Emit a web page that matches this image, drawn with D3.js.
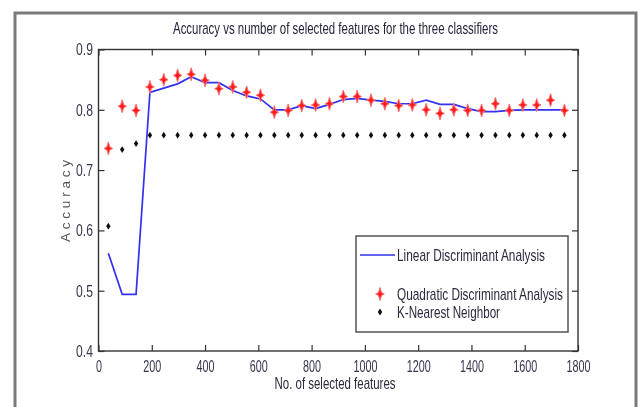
<!DOCTYPE html>
<html>
<head>
<meta charset="utf-8">
<title>Accuracy vs number of selected features</title>
<style>
    body, html {
        margin: 0;
        padding: 0;
        background: #fff;
        font-family: "Liberation Sans", Arial, sans-serif;
    }
    .axis .domain {
        display: none;
    }
    .axis line {
        stroke: #333;
        stroke-width: 1.2;
    }
    .axis text {
        font-size: 17px;
        fill: #363650;
    }
</style>
</head>
<body>
<div id="chart"></div>
<script src="https://d3js.org/d3.v7.min.js"></script>
<script>

    // number of selected features (x) for each run
    var features = [37, 89, 141, 193, 245, 297, 348, 400, 452, 504, 556, 608, 660, 712, 763, 815, 867,
        919, 971, 1023, 1075, 1127, 1178, 1230, 1282, 1334, 1386, 1438, 1490, 1542, 1593, 1645, 1697, 1749];

    var ldaAcc = [0.562, 0.494, 0.494, 0.829, 0.836, 0.843, 0.855, 0.845, 0.845, 0.832, 0.823, 0.818,
        0.800, 0.800, 0.807, 0.802, 0.809, 0.817, 0.819, 0.816, 0.814, 0.810, 0.810, 0.816,
        0.809, 0.809, 0.802, 0.797, 0.797, 0.799, 0.800, 0.800, 0.800, 0.800];

    var qdaAcc = [0.736, 0.806, 0.799, 0.838, 0.850, 0.857, 0.859, 0.849, 0.835, 0.838, 0.829, 0.824,
        0.796, 0.799, 0.807, 0.808, 0.810, 0.822, 0.822, 0.816, 0.810, 0.807, 0.808, 0.800,
        0.794, 0.800, 0.799, 0.799, 0.810, 0.799, 0.808, 0.808, 0.816, 0.799];

    var knnAcc = [0.607, 0.734, 0.744, 0.758, 0.758, 0.758, 0.758, 0.758, 0.758, 0.758, 0.758, 0.758,
        0.758, 0.758, 0.758, 0.758, 0.758, 0.758, 0.758, 0.758, 0.758, 0.758, 0.758, 0.758,
        0.758, 0.758, 0.758, 0.758, 0.758, 0.758, 0.758, 0.758, 0.758, 0.758];

    var xTicks = [0, 200, 400, 600, 800, 1000, 1200, 1400, 1600, 1800];
    var yTicks = [0.4, 0.5, 0.6, 0.7, 0.8, 0.9];
    var legendLabels = ['Linear Discriminant Analysis', 'Quadratic Discriminant Analysis', 'K-Nearest Neighbor'];

    var width = 641;
    var height = 407;
    var plotLeft = 98.5, plotRight = 578, plotTop = 49.5, plotBottom = 351;

    var svg = d3.select('#chart')
        .append('svg')
        .attr('width', width)
        .attr('height', height);

    svg.append('defs').append('filter')
        .attr('id', 'soft')
        .append('feGaussianBlur')
        .attr('stdDeviation', 0.5);

    var g = svg.append('g').attr('filter', 'url(#soft)');

    // figure frame
    g.append('path')
        .attr('d', 'M15,407 V13 H636 V407')
        .attr('fill', 'none')
        .attr('stroke', '#7a7a7a')
        .attr('stroke-width', 3);

    var x = d3.scaleLinear().domain([0, 1800]).range([plotLeft, plotRight]);
    var y = d3.scaleLinear().domain([0.4, 0.9]).range([plotBottom, plotTop]);

    // char based width for the narrow matlab-ish font
    function narrow(sel, per) {
        sel.each(function() {
            var s = d3.select(this).text();
            var w = 0;
            for (var c of s) w += (c === '.') ? per * 0.6 : per;
            d3.select(this).attr('textLength', w).attr('lengthAdjust', 'spacingAndGlyphs');
        });
    }

    var xAxis = g.append('g')
        .attr('class', 'axis')
        .attr('transform', 'translate(0,' + plotBottom + ')')
        .call(d3.axisBottom(x).tickValues(xTicks).tickSizeInner(-6).tickSizeOuter(0)
            .tickPadding(8.5).tickFormat(d3.format('d')));
    xAxis.selectAll('text').call(narrow, 6);

    g.append('g')
        .attr('class', 'axis')
        .attr('transform', 'translate(0,' + plotTop + ')')
        .call(d3.axisTop(x).tickValues(xTicks).tickSizeInner(-6).tickSizeOuter(0).tickFormat(''));

    var yAxis = g.append('g')
        .attr('class', 'axis')
        .attr('transform', 'translate(' + plotLeft + ',0)')
        .call(d3.axisLeft(y).tickValues(yTicks).tickSizeInner(-6).tickSizeOuter(0)
            .tickPadding(5.5).tickFormat(d3.format('.1f')));
    yAxis.selectAll('text').call(narrow, 6.5);

    g.append('g')
        .attr('class', 'axis')
        .attr('transform', 'translate(' + plotRight + ',0)')
        .call(d3.axisRight(y).tickValues(yTicks).tickSizeInner(-6).tickSizeOuter(0).tickFormat(''));

    // axes box
    g.append('rect')
        .attr('x', plotLeft)
        .attr('y', plotTop)
        .attr('width', plotRight - plotLeft)
        .attr('height', plotBottom - plotTop)
        .attr('fill', 'none')
        .attr('stroke', '#333')
        .attr('stroke-width', 1.4);

    var points = features.map(function(f, i) {
        return {f: f, lda: ldaAcc[i], qda: qdaAcc[i], knn: knnAcc[i]};
    });

    var starPath = 'M0,-6.5 L1.5,-1.5 L4.3,0 L1.5,1.5 L0,6.5 L-1.5,1.5 L-4.3,0 L-1.5,-1.5 Z';
    var dotPath = 'M0,-3.4 L2.2,0 L0,3.4 L-2.2,0 Z';

    // LDA line
    var line = d3.line()
        .x(function(d) { return x(d.f); })
        .y(function(d) { return y(d.lda); });

    g.append('path')
        .datum(points)
        .attr('d', line)
        .attr('fill', 'none')
        .attr('stroke', '#3030f0')
        .attr('stroke-width', 1.7);

    // QDA markers
    g.selectAll('.qda')
        .data(points)
        .enter()
        .append('path')
        .attr('class', 'qda')
        .attr('transform', function(d) { return 'translate(' + x(d.f) + ',' + y(d.qda) + ')'; })
        .attr('d', starPath)
        .attr('fill', '#ff1f1f')
        .attr('stroke', '#ff7070')
        .attr('stroke-width', 1);

    // KNN markers
    g.selectAll('.knn')
        .data(points)
        .enter()
        .append('path')
        .attr('class', 'knn')
        .attr('transform', function(d) { return 'translate(' + x(d.f) + ',' + y(d.knn) + ')'; })
        .attr('d', dotPath)
        .attr('fill', '#111');

    // title and labels
    g.append('text')
        .attr('x', 335.5)
        .attr('y', 34)
        .attr('text-anchor', 'middle')
        .attr('font-size', 17)
        .attr('fill', '#25253c')
        .attr('textLength', 325)
        .attr('lengthAdjust', 'spacingAndGlyphs')
        .text('Accuracy vs number of selected features for the three classifiers');

    g.append('text')
        .attr('x', 335)
        .attr('y', 389)
        .attr('text-anchor', 'middle')
        .attr('font-size', 17)
        .attr('fill', '#2c2c3c')
        .attr('textLength', 121)
        .attr('lengthAdjust', 'spacingAndGlyphs')
        .text('No. of selected features');

    g.append('text')
        .attr('transform', 'translate(70,201) rotate(-90)')
        .attr('text-anchor', 'middle')
        .attr('font-size', 13.5)
        .attr('fill', '#555')
        .attr('textLength', 82)
        .attr('lengthAdjust', 'spacing')
        .text('Accuracy');

    // legend
    var legend = g.append('g');
    legend.append('rect')
        .attr('x', 356)
        .attr('y', 236)
        .attr('width', 212)
        .attr('height', 96)
        .attr('fill', '#fff')
        .attr('stroke', '#555')
        .attr('stroke-width', 1.5);

    var legendRows = [255, 294, 312];
    var legendWidths = [148, 166, 103];

    legend.append('line')
        .attr('x1', 360).attr('x2', 395)
        .attr('y1', legendRows[0]).attr('y2', legendRows[0])
        .attr('stroke', '#3030f0')
        .attr('stroke-width', 1.7);

    legend.append('path')
        .attr('transform', 'translate(380,' + legendRows[1] + ')')
        .attr('d', starPath)
        .attr('fill', '#ff1f1f')
        .attr('stroke', '#ff7070')
        .attr('stroke-width', 1);

    legend.append('path')
        .attr('transform', 'translate(380,' + legendRows[2] + ')')
        .attr('d', dotPath)
        .attr('fill', '#111');

    legend.selectAll('.legend')
        .data(legendLabels)
        .enter()
        .append('text')
        .attr('class', 'legend')
        .attr('x', 397)
        .attr('y', function(d, i) { return legendRows[i] + 6; })
        .attr('font-size', 17)
        .attr('fill', '#2a2a40')
        .attr('textLength', function(d, i) { return legendWidths[i]; })
        .attr('lengthAdjust', 'spacingAndGlyphs')
        .text(function(d) { return d; });

</script>
</body>
</html>
